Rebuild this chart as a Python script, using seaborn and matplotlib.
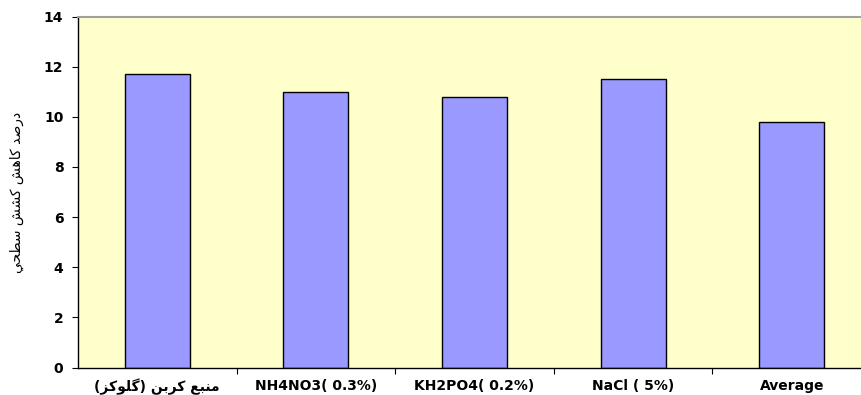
import matplotlib
matplotlib.use("Agg")
import matplotlib.pyplot as plt
from matplotlib.ticker import FixedLocator, NullFormatter
import seaborn as sns
import pandas as pd

# ---- data -------------------------------------------------------------
categories = ["منبع کربن (گلوکز)", "NH4NO3( 0.3%)", "KH2PO4( 0.2%)", "NaCl ( 5%)", "Average"]
values = [11.7, 11.0, 10.8, 11.5, 9.8]
y_ticks = [0, 2, 4, 6, 8, 10, 12, 14]
y_title = "درصد کاهش کشش سطحي"

# ---- minimal Arabic/Persian shaping (matplotlib has no bidi/shaping) ---
# letter: (isolated, final, initial, medial); None = no such form
FORMS = {
    "ا": ("\uFE8D", "\uFE8E", None, None),
    "ب": ("\uFE8F", "\uFE90", "\uFE91", "\uFE92"),
    "ح": ("\uFEA1", "\uFEA2", "\uFEA3", "\uFEA4"),
    "د": ("\uFEA9", "\uFEAA", None, None),
    "ر": ("\uFEAD", "\uFEAE", None, None),
    "ز": ("\uFEAF", "\uFEB0", None, None),
    "س": ("\uFEB1", "\uFEB2", "\uFEB3", "\uFEB4"),
    "ش": ("\uFEB5", "\uFEB6", "\uFEB7", "\uFEB8"),
    "ص": ("\uFEB9", "\uFEBA", "\uFEBB", "\uFEBC"),
    "ط": ("\uFEC1", "\uFEC2", "\uFEC3", "\uFEC4"),
    "ع": ("\uFEC9", "\uFECA", "\uFECB", "\uFECC"),
    "ل": ("\uFEDD", "\uFEDE", "\uFEDF", "\uFEE0"),
    "م": ("\uFEE1", "\uFEE2", "\uFEE3", "\uFEE4"),
    "ن": ("\uFEE5", "\uFEE6", "\uFEE7", "\uFEE8"),
    "ه": ("\uFEE9", "\uFEEA", "\uFEEB", "\uFEEC"),
    "و": ("\uFEED", "\uFEEE", None, None),
    "ي": ("\uFEF1", "\uFEF2", "\uFEF3", "\uFEF4"),
    "ک": ("\uFB8E", "\uFB8F", "\uFB90", "\uFB91"),
    "گ": ("\uFB92", "\uFB93", "\uFB94", "\uFB95"),
}


def _joins_left(ch):
    return ch in FORMS and FORMS[ch][2] is not None


def rtl(text):
    if not any(ch in FORMS for ch in text):
        return text
    shaped = []
    for i, ch in enumerate(text):
        if ch not in FORMS:
            shaped.append(ch)
            continue
        prev_ch = text[i - 1] if i > 0 else ""
        next_ch = text[i + 1] if i + 1 < len(text) else ""
        jp = _joins_left(prev_ch)
        jn = _joins_left(ch) and next_ch in FORMS
        iso, fin, ini, med = FORMS[ch]
        if jp and jn:
            shaped.append(med)
        elif jp:
            shaped.append(fin)
        elif jn:
            shaped.append(ini)
        else:
            shaped.append(iso)
    mirror = {"(": ")", ")": "("}
    return "".join(mirror.get(c, c) for c in reversed(shaped))


# ---- figure -------------------------------------------------------------
sns.set_theme(style="white")
plt.rcParams["font.family"] = ["DejaVu Sans"]
plt.rcParams["text.color"] = "black"
plt.rcParams["axes.labelcolor"] = "black"
plt.rcParams["xtick.color"] = "black"
plt.rcParams["ytick.color"] = "black"

df = pd.DataFrame({"category": categories, "value": values})

fig = plt.figure(figsize=(8.62, 3.95), dpi=100)
fig.patch.set_facecolor("white")
ax = fig.add_axes([78 / 862, 27.5 / 395, 793 / 862, 351 / 395])
ax.set_facecolor("#FFFFCC")

sns.barplot(data=df, x="category", y="value", color="#9999FF", saturation=1,
            edgecolor="black", linewidth=1.0, width=0.41, ax=ax)

ax.set_xlim(-0.5, len(categories) - 0.5)
ax.set_ylim(y_ticks[0], y_ticks[-1])
ax.set_yticks(y_ticks)
ax.set_yticklabels([str(t) for t in y_ticks], fontsize=10, fontweight="bold", color="black")

ax.set_xticks(range(len(categories)))
ax.set_xticklabels([rtl(c) for c in categories], fontsize=10, fontweight="bold", color="black")
ax.xaxis.set_minor_locator(FixedLocator([i + 0.5 for i in range(len(categories) - 1)]))
ax.xaxis.set_minor_formatter(NullFormatter())
ax.tick_params(axis="x", which="major", length=0, pad=8)
ax.tick_params(axis="x", which="minor", length=4, width=0.8, color="black", direction="out", bottom=True)
ax.tick_params(axis="y", which="major", length=4.5, width=0.8, color="black", direction="out", left=True, pad=6)

ax.set_xlabel("")
ax.set_ylabel(rtl(y_title), fontsize=10, labelpad=14, color="black")

for side in ("left", "bottom"):
    ax.spines[side].set_color("black")
    ax.spines[side].set_linewidth(1.0)
for side in ("top", "right"):
    ax.spines[side].set_color("#A0A0A0")
    ax.spines[side].set_linewidth(1.5)
ax.grid(False)

fig.savefig("out.png", dpi=100)
